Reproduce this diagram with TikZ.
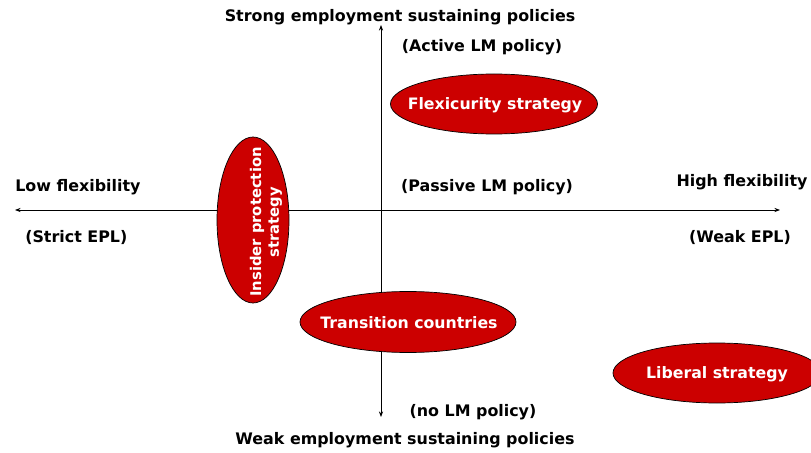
\documentclass[tikz,border=0pt]{standalone}
\usepackage{fontspec}
\setmainfont{DejaVu Sans}
\usetikzlibrary{shapes.geometric}
\usetikzlibrary{arrows.meta}
\definecolor{strategyred}{RGB}{204,0,0}
\def\px{0.025cm}
\tikzstyle{axis}=[black,line width=0.6pt,{Stealth[length=4pt,width=3pt]}-{Stealth[length=4pt,width=3pt]}]
\tikzstyle{strategy}=[ellipse,draw=black,line width=0.5pt,fill=strategyred,inner sep=0pt]
\tikzstyle{strategytext}=[text=white,inner sep=0pt,align=center,font=\fontsize{11.2}{13}\selectfont\bfseries]
\tikzstyle{axislabel}=[inner sep=0pt,font=\fontsize{11.3}{13}\selectfont\bfseries]
\begin{document}
\begin{tikzpicture}[x=0.025cm,y=-0.025cm]
  \useasboundingbox (0,0) rectangle (811,453);
  % axes
  \coordinate (west) at (15,210);
  \coordinate (east) at (780,210);
  \coordinate (north) at (381,25);
  \coordinate (south) at (381,417);
  \draw[axis] (west) -- (east);
  \draw[axis] (north) -- (south);
  % strategies
  \node[strategy,minimum width=207*\px,minimum height=60*\px] (flexi) at (494,104) {};
  \node[strategytext] (flexitext) at (495,105) {Flexicurity strategy};
  \node[strategy,minimum width=72*\px,minimum height=166*\px] (insider) at (253,220) {};
  \node[strategytext,rotate=90,font=\fontsize{10.5}{12.5}\selectfont\bfseries] (insidertext) at (266,222) {Insider protection\\strategy};
  \node[strategy,minimum width=216*\px,minimum height=61*\px] (transition) at (408,322) {};
  \node[strategytext] (transitiontext) at (409,323) {Transition countries};
  \node[strategy,minimum width=208*\px,minimum height=60*\px] (liberal) at (717,373) {};
  \node[strategytext] (liberaltext) at (717,374) {Liberal strategy};
  % labels
  \node[axislabel] (strong) at (400,17) {Strong employment sustaining policies};
  \node[axislabel] (active) at (482,47) {(Active LM policy)};
  \node[axislabel] (passive) at (487,187) {(Passive LM policy)};
  \node[axislabel,anchor=west] (low) at (15,187) {Low flexibility};
  \node[axislabel,anchor=west] (strict) at (25,238) {(Strict EPL)};
  \node[axislabel] (high) at (742,182) {High flexibility};
  \node[axislabel] (weakepl) at (740,238) {(Weak EPL)};
  \node[axislabel] (nolm) at (473,412) {(no LM policy)};
  \node[axislabel] (weak) at (405,440) {Weak employment sustaining policies};
\end{tikzpicture}
\end{document}
